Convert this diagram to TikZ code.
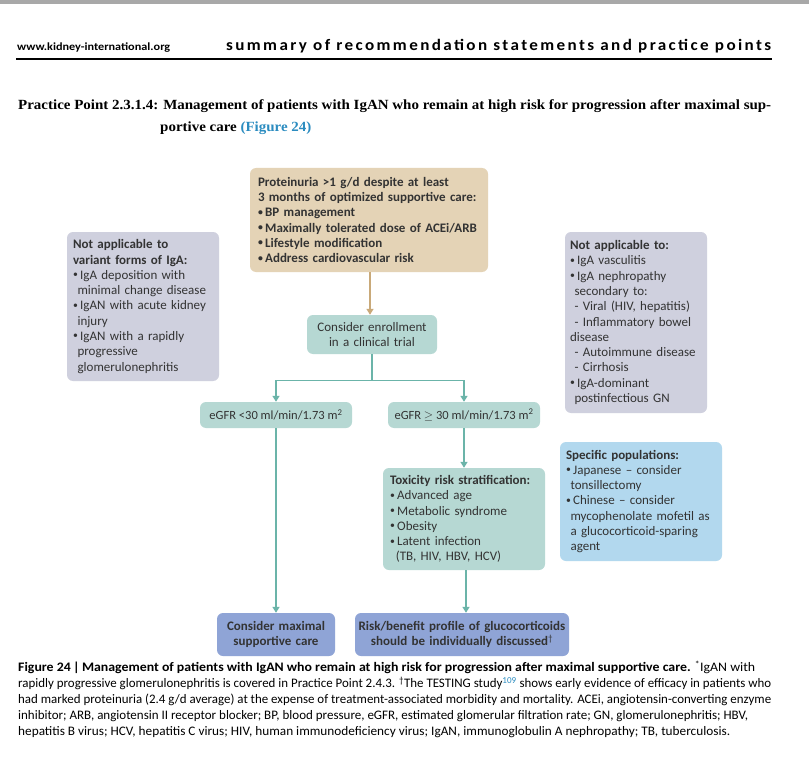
\documentclass[tikz,border=0pt]{standalone}
\usepackage{fontspec}
\usepackage{graphicx}
\setmainfont{Carlito}
\newfontfamily\ppfont{Liberation Serif}
\newfontfamily\hdfont[LetterSpace=14]{Carlito}
\usetikzlibrary{arrows.meta,calc}
\definecolor{tanbox}{HTML}{E4D3B6}
\definecolor{tanline}{HTML}{C9A979}
\definecolor{tealbox}{HTML}{B6D8D3}
\definecolor{tealline}{HTML}{6BB4A9}
\definecolor{graybox}{HTML}{CFD0DE}
\definecolor{bluebox}{HTML}{B2D8EE}
\definecolor{purplebox}{HTML}{8FA4D6}
\definecolor{txt}{HTML}{333333}
\definecolor{figblue}{HTML}{2B8CC0}
\definecolor{topbar}{HTML}{A8A8A8}
\newsavebox\ppA
\newcommand\bul{\makebox[0.55em][l]{\raisebox{0.12em}{\scalebox{0.75}{•}}}}
\newcommand\bxfont{\fontsize{13}{15.3}\selectfont}
\newcommand\egfont{\fontsize{12.5}{15}\selectfont}
\newcommand\capfont{\fontsize{13}{15}\selectfont}
\newcommand\pptext{\ppfont\bfseries\fontsize{14}{16}\selectfont}
\newcommand\capfit[2]{\resizebox{#1}{\height}{#2}}
\begin{document}
\begin{tikzpicture}[x=1pt,y=-1pt,
  box/.style={rounded corners=6pt, inner sep=0pt, text=txt, font=\bxfont},
  lbox/.style={box, align=left},
  cbox/.style={box, align=center},
  tarr/.style={-{Triangle[width=7pt,length=6pt]}, line width=1.4pt, draw=tanline},
  garr/.style={-{Triangle[width=7pt,length=6pt]}, line width=1.4pt, draw=tealline},
  gline/.style={line width=1.4pt, draw=tealline},
  capline/.style={anchor=base west, inner sep=0pt, font=\capfont}]
\useasboundingbox (0,0) rectangle (809,773);
\fill[white] (0,0) rectangle (809,773);
\fill[topbar] (0,0) rectangle (809,4.5);
% header
\node[anchor=base west, inner sep=0pt] (web) at (17,51)
  {\resizebox{153pt}{\height}{\fontsize{11}{13}\selectfont\bfseries www.kidney-international.org}};
\node[anchor=base west, inner sep=0pt] (head) at (226,51)
  {\resizebox{545pt}{\height}{\hdfont\bfseries\fontsize{16}{18}\selectfont summary of recommendation statements and practice points}};
\draw[line width=2.5pt] (16,59) -- (772,59);
% practice point
\node[anchor=base west, inner sep=0pt] (pp1) at (18,110)
  {\resizebox{753pt}{\height}{\pptext Practice Point 2.3.1.4: Management of patients with IgAN who remain at high risk for progression after maximal sup-}%
   \sbox\ppA{\pptext Practice Point 2.3.1.4: Management of patients with IgAN who remain at high risk for progression after maximal sup-}%
   \pgfmathsetmacro\pps{753/\the\wd\ppA}\global\let\ppscale\pps};
\node[anchor=base west, inner sep=0pt] (pp2) at (160,132)
  {\scalebox{\ppscale}[1]{\pptext portive care {\color{figblue}(Figure 24)}}};
% boxes
\node[lbox, fill=tanbox, font=\bxfont\bfseries, minimum width=238pt, minimum height=104pt, text width=222pt] (top) at (369,220)
  {Proteinuria >1 g/d despite at least\\3 months of optimized supportive care:\\\bul BP management\\\bul Maximally tolerated dose of ACEi/ARB\\\bul Lifestyle modification\\\bul Address cardiovascular risk};
\node[cbox, fill=tealbox, minimum width=130pt, minimum height=39pt, text width=126pt] (enroll) at (372,334.5)
  {Consider enrollment\\in a clinical trial};
\node[box, fill=tealbox, font=\egfont, minimum width=152pt, minimum height=26pt] (eL) at (276,415)
  {eGFR <30 ml/min/1.73 m\textsuperscript{2}};
\node[box, fill=tealbox, font=\egfont, minimum width=152pt, minimum height=26pt] (eR) at (464,415)
  {eGFR $\geq$ 30 ml/min/1.73 m\textsuperscript{2}};
\node[lbox, fill=tealbox, minimum width=162pt, minimum height=102pt, text width=148pt] (tox) at (464,519)
  {\textbf{Toxicity risk stratification:}\\\bul Advanced age\\\bul Metabolic syndrome\\\bul Obesity\\\bul Latent infection\\\hspace*{0.45em}(TB, HIV, HBV, HCV)};
\node[lbox, fill=graybox, minimum width=152pt, minimum height=149pt, text width=140pt] (nal) at (143,306.5)
  {\textbf{Not applicable to}\\\textbf{variant forms of IgA:}\\\bul IgA deposition with\\\hspace*{0.35em}minimal change disease\\\bul IgAN with acute kidney\\\hspace*{0.35em}injury\\\bul IgAN with a rapidly\\\hspace*{0.35em}progressive\\\hspace*{0.35em}glomerulonephritis};
\node[lbox, fill=graybox, minimum width=142pt, minimum height=181pt, text width=132pt] (nar) at (636,322.5)
  {\textbf{Not applicable to:}\\\bul IgA vasculitis\\\bul IgA nephropathy\\\hspace*{0.35em}secondary to:\\\hspace*{0.35em}- Viral (HIV, hepatitis)\\\hspace*{0.35em}- Inflammatory bowel\\disease\\\hspace*{0.35em}- Autoimmune disease\\\hspace*{0.35em}- Cirrhosis\\\bul IgA-dominant\\\hspace*{0.35em}postinfectious GN};
\node[lbox, fill=bluebox, minimum width=162pt, minimum height=119pt, text width=150pt] (spec) at (641,501.5)
  {\textbf{Specific populations:}\\\bul Japanese -- consider\\\hspace*{0.35em}tonsillectomy\\\bul Chinese -- consider\\\hspace*{0.35em}mycophenolate mofetil as\\\hspace*{0.35em}a glucocorticoid-sparing\\\hspace*{0.35em}agent};
\node[cbox, fill=purplebox, font=\bxfont\bfseries, minimum width=118pt, minimum height=43pt, text width=114pt] (bl) at (276,634.5)
  {Consider maximal\\supportive care};
\node[cbox, fill=purplebox, font=\bxfont\bfseries, minimum width=214pt, minimum height=43pt, text width=210pt] (br) at (462,634.5)
  {Risk/benefit profile of glucocorticoids\\should be individually discussed\textsuperscript{\textmd{†}}};
% connectors
\draw[tarr] ([xshift=1pt]top.south) -- ([xshift=1pt]top.south |- enroll.north);
\draw[gline] (enroll.south) -- ++(0,26) coordinate (split);
\draw[garr] (split) -| (eL.north);
\draw[garr] (split) -| (eR.north);
\draw[garr] (eL.south) -- (eL.south |- bl.north);
\draw[garr] (eR.south) -- (tox.north);
\draw[garr] ([xshift=2pt]tox.south) -- ([xshift=2pt]tox.south |- br.north);
% caption
\node[capline] (c1) at (18,671.5) {\capfit{737pt}{\textbf{Figure 24\,|\,Management of patients with IgAN who remain at high risk for progression after maximal supportive care.} \textsuperscript{*}IgAN with}};
\node[capline] (c2) at (18,687.5) {\capfit{753pt}{rapidly progressive glomerulonephritis is covered in Practice Point 2.4.3. \textsuperscript{†}The TESTING study\textsuperscript{\color{figblue}109} shows early evidence of efficacy in patients who}};
\node[capline] (c3) at (18,703.5) {\capfit{753pt}{had marked proteinuria (2.4 g/d average) at the expense of treatment-associated morbidity and mortality. ACEi, angiotensin-converting enzyme}};
\node[capline] (c4) at (18,719.5) {\capfit{730pt}{inhibitor; ARB, angiotensin II receptor blocker; BP, blood pressure, eGFR, estimated glomerular filtration rate; GN, glomerulonephritis; HBV,}};
\node[capline] (c5) at (18,735.5) {\capfit{712pt}{hepatitis B virus; HCV, hepatitis C virus; HIV, human immunodeficiency virus; IgAN, immunoglobulin A nephropathy; TB, tuberculosis.}};
\end{tikzpicture}
\end{document}
